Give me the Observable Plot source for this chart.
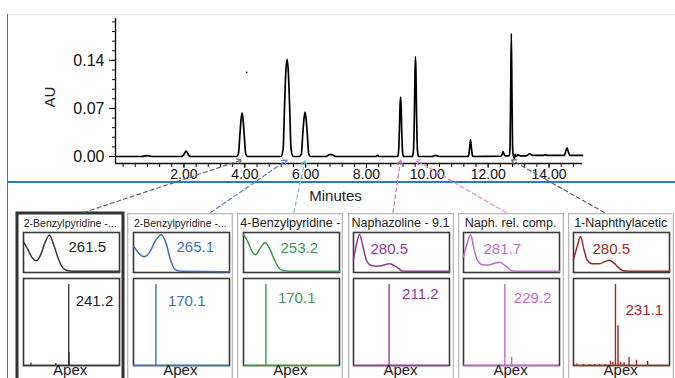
<!DOCTYPE html>
<html>
<head>
<meta charset="utf-8">
<script src="https://cdn.jsdelivr.net/npm/d3@7"></script>
<script src="https://cdn.jsdelivr.net/npm/@observablehq/plot@0.6"></script>
<style>
  body { margin: 0; background: #fff; }
  #root { position: relative; width: 675px; height: 378px; overflow: hidden;
          font-family: "Liberation Sans", Arial, sans-serif; color: #222; }
  .vline { position: absolute; left: 7px; top: 14px; width: 1px; height: 364px; background: #3d80c4; }
  .topline { position: absolute; left: 7px; top: 14px; width: 668px; height: 1px; background: #e3ebf3; }
  .sep { position: absolute; left: 7px; top: 180.5px; width: 668px; height: 2px; background: #2b7bc0; }
  .panel { position: absolute; top: 213px; width: 106px; height: 180px;
           box-shadow: inset 0 0 0 1.3px #b9b9b9; }
  .panel.sel { box-shadow: 0 0 0 1.5px #333, inset 0 0 0 1.5px #333; }
  .ptitle { position: absolute; left: -20px; width: 146px; top: 3px; text-align: center;
            white-space: nowrap; line-height: 14px; color: #222; }
  .apex { position: absolute; left: 0; width: 106px; top: 149px; text-align: center;
          font-size: 15px; line-height: 16px; color: #222; }
  .panel svg { position: absolute; overflow: visible; }
  #main { position: absolute; left: 0; top: 0; }
</style>
</head>
<body>
<div id="root">
  <div class="topline"></div>
  <div class="vline"></div>
  <div class="sep"></div>
</div>
<script>
// ---- Chromatogram trace: [minutes, AU]
const trace = [
  [-0.25, 0], [0.6, 0], [0.8, 0.0012], [0.95, 0], [1.9, 0],
  [1.98, 0.0015], [2.03, 0.0055], [2.07, 0.0077], [2.11, 0.0055], [2.17, 0.0012], [2.25, 0],
  [3.73, 0], [3.79, 0.004], [3.84, 0.032], [3.875, 0.053], [3.91, 0.0637], [3.945, 0.053], [3.98, 0.032], [4.03, 0.004], [4.09, 0],
  [5.19, 0], [5.26, 0.011], [5.305, 0.071], [5.345, 0.12], [5.39, 0.1415], [5.435, 0.12], [5.475, 0.071], [5.52, 0.011], [5.59, 0],
  [5.80, 0], [5.86, 0.004], [5.905, 0.032], [5.943, 0.054], [5.98, 0.0646], [6.017, 0.054], [6.055, 0.032], [6.10, 0.004], [6.16, 0],
  [6.65, 0], [6.75, 0.002], [6.82, 0.003], [6.9, 0.002], [7.0, 0],
  [8.3, 0], [8.36, 0.0018], [8.42, 0],
  [9.02, 0], [9.05, 0.005], [9.085, 0.043], [9.102, 0.073], [9.12, 0.0865], [9.138, 0.073], [9.155, 0.043], [9.19, 0.005], [9.22, 0],
  [9.51, 0], [9.545, 0.009], [9.578, 0.072], [9.594, 0.122], [9.61, 0.145], [9.626, 0.122], [9.642, 0.072], [9.675, 0.009], [9.71, 0],
  [10.15, 0], [10.27, 0.0015], [10.4, 0],
  [11.33, 0], [11.36, 0.002], [11.39, 0.012], [11.42, 0.0243], [11.45, 0.012], [11.48, 0.002], [11.51, 0],
  [12.42, 0.0005], [12.46, 0.0035], [12.49, 0.0073], [12.52, 0.0035], [12.56, 0.0008],
  [12.69, 0.0008], [12.715, 0.01], [12.738, 0.09], [12.76, 0.179], [12.782, 0.09], [12.805, 0.01], [12.83, 0.0005],
  [12.86, -0.003], [12.89, 0.003], [12.93, 0.0005], [12.98, 0.0025], [13.05, 0.001],
  [13.25, 0.001], [13.36, 0.004], [13.47, 0.0015],
  [13.8, 0.0015], [13.88, 0.0025], [13.96, 0.0015],
  [14.5, 0.0015], [14.54, 0.006], [14.59, 0.0127], [14.64, 0.006], [14.68, 0.0015], [15.1, 0.0015]
];
const strayPoint = [[4.06, 0.1225]];

// ---- Axis ticks
const xTickLabels = [2, 4, 6, 8, 10, 12, 14];
const xMinorStep = 0.4;
const yTickLabels = [0, 0.07, 0.14];
const yMinorStep = 0.014;

// ---- Identified peaks
const compounds = ["2-Benzylpyridine -...", "2-Benzylpyridine -...", "4-Benzylpyridine -",
                   "Naphazoline - 9.1", "Naph. rel. comp.", "1-Naphthylacetic"];
const peakTimes = [3.91, 5.39, 5.98, 9.12, 9.61, 12.76];
const uvMax = [261.5, 265.1, 253.2, 280.5, 281.7, 280.5];
const msBase = [241.2, 170.1, 170.1, 211.2, 229.2, 231.1];

// UV spectra: [nm, relative absorbance]
const uv0 = [[210,0.78],[218,0.6],[226,0.4],[235,0.3],[244,0.45],[253,0.78],[261.5,0.95],[270,0.7],[279,0.35],[287,0.13],[296,0.05],[308,0.03],[400,0.03]];
const uv1 = [[210,0.68],[220,0.5],[231,0.4],[242,0.52],[254,0.82],[265.1,0.96],[275,0.72],[283,0.33],[292,0.08],[304,0.03],[400,0.02]];
const uv2 = [[210,0.97],[218,0.8],[226,0.56],[234,0.45],[243,0.62],[253.2,0.76],[262,0.6],[270,0.36],[278,0.15],[288,0.05],[300,0.03],[400,0.03]];
const uv3 = [[210,0.33],[216,0.72],[222,0.97],[228,0.7],[236,0.3],[245,0.18],[258,0.16],[270,0.19],[280.5,0.22],[290,0.18],[298,0.12],[306,0.04],[320,0.03],[400,0.03]];
const uv4 = [[210,0.4],[217,0.72],[224,0.97],[230,0.65],[237,0.32],[247,0.2],[260,0.19],[272,0.24],[281.7,0.26],[290,0.2],[298,0.12],[307,0.04],[320,0.03],[400,0.03]];
const uv5 = [[210,0.33],[217,0.65],[224,0.92],[230,0.62],[237,0.32],[247,0.22],[260,0.22],[272,0.28],[280.5,0.31],[290,0.24],[298,0.14],[307,0.05],[320,0.03],[400,0.03]];

// Apex mass spectra: [m/z, relative intensity]
const ms0 = [[123,0.03],[201,0.025],[241.2,1.0],[242.2,0.16]];
const ms1 = [[170.1,1.0]];
const ms2 = [[170.1,1.0]];
const ms3 = [[211.2,1.0]];
const ms4 = [[213.7,0.015],[229.2,1.0],[250.5,0.1],[291.6,0.012]];
const ms5 = [[110.5,0.017],[131.6,0.012],[150.5,0.012],[165.3,0.012],[181,0.015],[198,0.012],[215.8,0.054],[223.2,0.04],[231.1,1.0],[239,0.49],[247.4,0.04],[257.9,0.033],[273.7,0.1],[296.8,0.066],[331.6,0.05]];

const uvSpectra = [uv0, uv1, uv2, uv3, uv4, uv5];
const msSpectra = [ms0, ms1, ms2, ms3, ms4, ms5];

// ---- Styling and layout
const seriesColors = ["#383838", "#3f6fc0", "#3c9a4c", "#8e3a9a", "#c06cc6", "#9b2b2b"];
const linkColors = ["#666", "#5b7fd0", "#6fc9b6", "#c77ab9", "#e48bd0", "#666"];
const titleSizes = [10.5, 10.5, 12.5, 12.5, 12.5, 12.5];
const layout = {
  W: 675, mainH: 216,
  margin: {top: 18, right: 93, bottom: 53, left: 115},
  xDom: [-0.25, 15.1], yDom: [-0.0102, 0.201],
  panelLeft0: 17.2, panelPitch: 110.1, panelTop: 213,
  linkFoot: [66, 83, 56, 45, 48, 36], linkFootY: 212, linkTipAU: -0.005,
  uvLabel: {dx: [45, 43, 37, 17, 20, 19], dy: [14.6, 15, 15.5, 17, 17, 17]},
  msLabel: {dx: [7, 12, 12, 13, 9, 10], dy: [22.5, 23, 20, 15.5, 20, 32]}
};
const font = "'Liberation Sans', Arial, sans-serif";
const root = document.getElementById("root");
const panelLeft = i => layout.panelLeft0 + layout.panelPitch * i;

// ---- Compound panels: UV spectrum above, apex mass spectrum below
compounds.forEach((name, i) => {
  const color = seriesColors[i];
  const p = document.createElement("div");
  p.className = "panel" + (i === 0 ? " sel" : "");
  p.style.left = panelLeft(i) + "px";

  const t = document.createElement("div");
  t.className = "ptitle";
  t.style.fontSize = titleSizes[i] + "px";
  t.textContent = name;
  p.appendChild(t);

  const uv = Plot.plot({
    width: 98, height: 42, margin: 1,
    x: {domain: [210, 400], axis: null},
    y: {domain: [0, 1.02], axis: null},
    style: {background: "transparent", overflow: "visible", fontFamily: font},
    marks: [
      Plot.frame({stroke: "#3a3a3a", strokeWidth: 1.6}),
      Plot.line(uvSpectra[i], {x: d => d[0], y: d => d[1], stroke: color, strokeWidth: 1.5, curve: "monotone-x"}),
      Plot.text([uvMax[i].toFixed(1)], {frameAnchor: "top-left", dx: layout.uvLabel.dx[i], dy: layout.uvLabel.dy[i],
        textAnchor: "start", lineAnchor: "middle", fontSize: 15, fill: color === "#383838" ? "#222" : color})
    ]
  });
  uv.style.left = "4.5px";
  uv.style.top = "17.7px";
  p.appendChild(uv);

  const ms = Plot.plot({
    width: 98, height: 89, margin: 1,
    x: {domain: [100, 400], axis: null},
    y: {domain: [0, 1.075], axis: null},
    style: {background: "transparent", overflow: "visible", fontFamily: font},
    marks: [
      Plot.frame({stroke: "#3a3a3a", strokeWidth: 1.6}),
      Plot.ruleY([0], {stroke: color, strokeWidth: 1.5}),
      Plot.ruleX(msSpectra[i], {x: d => d[0], y1: 0, y2: d => d[1], stroke: color, strokeWidth: 1.4}),
      Plot.text([msBase[i]], {x: d => d, frameAnchor: "top", text: d => d.toFixed(1),
        dx: layout.msLabel.dx[i], dy: layout.msLabel.dy[i],
        textAnchor: "start", lineAnchor: "middle", fontSize: 15, fill: color === "#383838" ? "#222" : color})
    ]
  });
  ms.style.left = "4.5px";
  ms.style.top = "63.7px";
  p.appendChild(ms);

  const a = document.createElement("div");
  a.className = "apex";
  a.textContent = "Apex";
  p.appendChild(a);
  root.appendChild(p);
});

// ---- Main chromatogram with links from each peak to its panel
const {W, mainH, margin, xDom, yDom} = layout;
const xS = d3.scaleLinear(xDom, [margin.left, W - margin.right]);
const yS = d3.scaleLinear(yDom, [mainH - margin.bottom, margin.top]);
const links = peakTimes.map((tm, i) => ({
  x1: xS.invert(panelLeft(i) + layout.linkFoot[i]),
  y1: yS.invert(layout.linkFootY),
  x2: tm, y2: layout.linkTipAU, i
}));

const main = Plot.plot({
  width: W, height: mainH,
  marginTop: margin.top, marginRight: margin.right, marginBottom: margin.bottom, marginLeft: margin.left,
  x: {domain: xDom, axis: null, label: null},
  y: {domain: yDom, axis: null, label: null},
  style: {background: "transparent", overflow: "visible", fontFamily: font, color: "#111"},
  marks: [
    Plot.axisX({ticks: d3.range(0, 15, xMinorStep), tickSize: 4, tickFormat: () => "", label: null}),
    Plot.axisX({ticks: xTickLabels, tickSize: 5, tickPadding: 1, tickFormat: d => d.toFixed(2), fontSize: 14, label: null}),
    Plot.axisY({ticks: d3.range(0, 0.2, yMinorStep), tickSize: 3, tickFormat: () => "", label: null}),
    Plot.axisY({ticks: yTickLabels, tickSize: 6, tickPadding: 5, tickFormat: d => d.toFixed(2), fontSize: 16, label: null}),
    Plot.ruleY([yDom[0]], {stroke: "#111", strokeWidth: 1.4}),
    Plot.ruleX([xDom[0]], {stroke: "#111", strokeWidth: 1.4}),
    Plot.line(trace, {x: d => d[0], y: d => d[1], stroke: "#000", strokeWidth: 1.7, curve: "monotone-x"}),
    Plot.dot(strayPoint, {x: d => d[0], y: d => d[1], r: 0.9, fill: "#000"}),
    ...links.map(l => Plot.arrow([l], {x1: "x1", y1: "y1", x2: "x2", y2: "y2",
      stroke: linkColors[l.i], strokeWidth: 1.2, strokeDasharray: "4,3", headLength: 7, bend: 0})),
    Plot.text(["AU"], {frameAnchor: "left", dx: -65, dy: 16.5, rotate: -90, fontSize: 15, fill: "#222"}),
    Plot.text(["Minutes"], {frameAnchor: "bottom", dx: -13.5, dy: 37, fontSize: 15, fill: "#222"})
  ]
});
main.id = "main";
root.appendChild(main);
</script>
</body>
</html>
